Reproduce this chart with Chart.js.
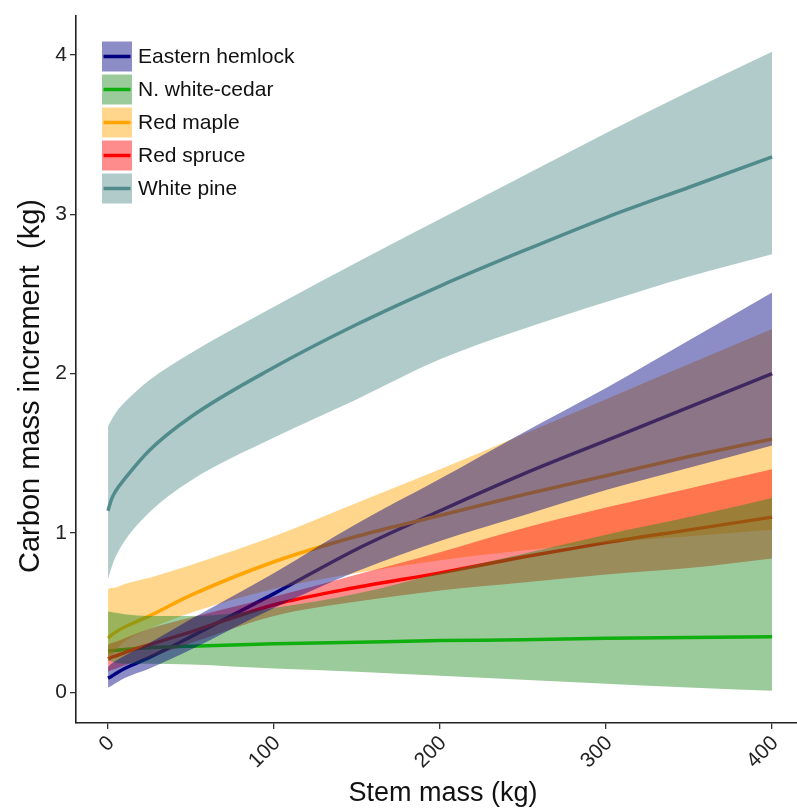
<!DOCTYPE html>
<html><head><meta charset="utf-8">
<script src="https://cdn.jsdelivr.net/npm/chart.js@4"></script>
<style>html,body{margin:0;padding:0;background:#fff}#wrap{width:797px;height:809px;position:relative}</style>
</head><body><div id="wrap"><canvas id="c" width="797" height="809"></canvas></div>
<script>
const stemMass = [0, 2, 5, 10, 25, 50, 100, 150, 200, 250, 300, 350, 400];
const xTicks = [0, 100, 200, 300, 400];
const yTicks = [0, 1, 2, 3, 4];
const species = ['Eastern hemlock', 'N. white-cedar', 'Red maple', 'Red spruce', 'White pine'];
const xTitle = 'Stem mass (kg)';
const yTitle = 'Carbon mass increment  (kg)';

const hemlockFit   = [0.09, 0.10, 0.12, 0.15, 0.22, 0.35, 0.62, 0.90, 1.14, 1.37, 1.58, 1.79, 2.00];
const hemlockLower = [0.03, 0.04, 0.06, 0.09, 0.15, 0.27, 0.53, 0.76, 0.95, 1.11, 1.27, 1.41, 1.55];
const hemlockUpper = [0.16, 0.18, 0.20, 0.23, 0.31, 0.46, 0.75, 1.06, 1.34, 1.63, 1.91, 2.21, 2.51];

const cedarFit   = [0.26, 0.262, 0.265, 0.27, 0.28, 0.29, 0.305, 0.315, 0.325, 0.33, 0.34, 0.345, 0.35];
const cedarLower = [0.20, 0.195, 0.185, 0.18, 0.18, 0.175, 0.15, 0.13, 0.105, 0.08, 0.055, 0.03, 0.01];
const cedarUpper = [0.51, 0.505, 0.50, 0.49, 0.48, 0.48, 0.53, 0.62, 0.75, 0.87, 0.99, 1.10, 1.22];

const mapleFit   = [0.34, 0.36, 0.38, 0.41, 0.48, 0.61, 0.82, 0.98, 1.11, 1.24, 1.36, 1.48, 1.59];
const mapleLower = [0.20, 0.23, 0.27, 0.32, 0.40, 0.50, 0.65, 0.75, 0.83, 0.89, 0.94, 0.98, 1.02];
const mapleUpper = [0.65, 0.655, 0.66, 0.68, 0.72, 0.80, 0.98, 1.19, 1.40, 1.62, 1.84, 2.06, 2.28];

const spruceFit   = [0.21, 0.22, 0.23, 0.25, 0.30, 0.38, 0.55, 0.66, 0.75, 0.85, 0.94, 1.02, 1.10];
const spruceLower = [0.13, 0.14, 0.15, 0.17, 0.22, 0.31, 0.48, 0.57, 0.64, 0.69, 0.74, 0.78, 0.84];
const spruceUpper = [0.30, 0.31, 0.32, 0.34, 0.40, 0.47, 0.60, 0.74, 0.88, 1.03, 1.16, 1.28, 1.40];

const pineFit   = [1.14, 1.21, 1.27, 1.34, 1.52, 1.73, 2.04, 2.31, 2.55, 2.77, 2.98, 3.17, 3.36];
const pineLower = [0.71, 0.78, 0.86, 0.95, 1.13, 1.33, 1.60, 1.84, 2.09, 2.28, 2.45, 2.61, 2.75];
const pineUpper = [1.67, 1.71, 1.76, 1.82, 1.96, 2.13, 2.42, 2.70, 2.97, 3.24, 3.51, 3.77, 4.02];

const fits   = [hemlockFit, cedarFit, mapleFit, spruceFit, pineFit];
const lowers = [hemlockLower, cedarLower, mapleLower, spruceLower, pineLower];
const uppers = [hemlockUpper, cedarUpper, mapleUpper, spruceUpper, pineUpper];
const lineColors = ['#000080', '#00CD00', '#FFA500', '#FF0000', '#528B8B'];
const fillColors = ['rgba(0,0,128,0.45)', 'rgba(34,139,34,0.45)', 'rgba(255,165,0,0.45)', 'rgba(255,0,0,0.45)', 'rgba(82,139,139,0.45)'];
// ribbon stacking (higher order = drawn earlier / underneath)
const ribbonOrder = [10, 20, 40, 30, 50];
const FONT = '"Liberation Sans", Arial, sans-serif';

const toPts = arr => stemMass.map((x, i) => ({x: x, y: arr[i]}));

const datasets = [];
species.forEach((name, s) => {
  datasets.push({
    label: name + ' lower', data: toPts(lowers[s]), borderWidth: 0, borderColor: 'rgba(0,0,0,0)',
    pointRadius: 0, fill: false, order: ribbonOrder[s], cubicInterpolationMode: 'monotone'
  });
  datasets.push({
    label: name + ' upper', data: toPts(uppers[s]), borderWidth: 0, borderColor: 'rgba(0,0,0,0)',
    pointRadius: 0, fill: '-1', backgroundColor: fillColors[s], order: ribbonOrder[s], cubicInterpolationMode: 'monotone'
  });
});
species.forEach((name, s) => {
  datasets.push({
    label: name, data: toPts(fits[s]), borderColor: lineColors[s], borderWidth: 3.5,
    pointRadius: 0, fill: false, order: 105 - s, cubicInterpolationMode: 'monotone',
    borderCapStyle: 'butt'
  });
});

const decorPlugin = {
  id: 'ggDecor',
  afterDatasetsDraw(chart) {
    const ctx = chart.ctx;
    ctx.save();
    species.forEach((name, s) => {
      const top = 41.5 + s * 33;
      ctx.fillStyle = '#ffffff';
      ctx.fillRect(102, top, 30, 30);
      ctx.strokeStyle = lineColors[s];
      ctx.lineWidth = 3.5;
      ctx.beginPath();
      ctx.moveTo(103.5, top + 15);
      ctx.lineTo(130.5, top + 15);
      ctx.stroke();
      ctx.fillStyle = fillColors[s];
      ctx.fillRect(102, top, 30, 30);
      ctx.fillStyle = '#111111';
      ctx.font = '21px ' + FONT;
      ctx.textBaseline = 'middle';
      ctx.textAlign = 'left';
      ctx.fillText(name, 138, top + 16);
    });
    // axis titles
    ctx.fillStyle = '#111111';
    ctx.font = '27px ' + FONT;
    ctx.textAlign = 'center';
    ctx.textBaseline = 'alphabetic';
    ctx.fillText(xTitle, 443, 801);
    ctx.translate(39, 386);
    ctx.rotate(-Math.PI / 2);
    ctx.font = '29px ' + FONT;
    ctx.fillText(yTitle, 0, 0);
    ctx.restore();
  }
};

new Chart(document.getElementById('c'), {
  type: 'line',
  data: {datasets: datasets},
  options: {
    responsive: false,
    animation: false,
    layout: {padding: {top: 5, right: 0, left: 0, bottom: 0}},
    plugins: {legend: {display: false}, tooltip: {enabled: false}},
    elements: {line: {tension: 0.4}},
    scales: {
      x: {
        type: 'linear', min: -19.3, max: 415,
        afterBuildTicks: sc => { sc.ticks = xTicks.map(v => ({value: v})); },
        afterFit: sc => { sc.height = 86; },
        grid: {drawOnChartArea: false, drawTicks: true, tickLength: 6, tickColor: '#333', lineWidth: 1.3},
        border: {display: true, color: '#222', width: 1.6},
        ticks: {
          minRotation: 45, maxRotation: 45, padding: 2, color: '#222', labelOffset: 3,
          font: {family: FONT, size: 21},
          callback: v => String(v)
        },
        title: {display: false}
      },
      y: {
        type: 'linear', min: -0.192, max: 4.247,
        afterBuildTicks: sc => { sc.ticks = yTicks.map(v => ({value: v})); },
        afterFit: sc => { sc.width = 76; },
        grid: {drawOnChartArea: false, drawTicks: true, tickLength: 6, tickColor: '#333', lineWidth: 1.3},
        border: {display: true, color: '#222', width: 1.6},
        ticks: {
          padding: 3, color: '#222',
          font: {family: FONT, size: 21},
          callback: v => String(v)
        },
        title: {display: false}
      }
    }
  },
  plugins: [decorPlugin]
});
</script>
</body></html>
